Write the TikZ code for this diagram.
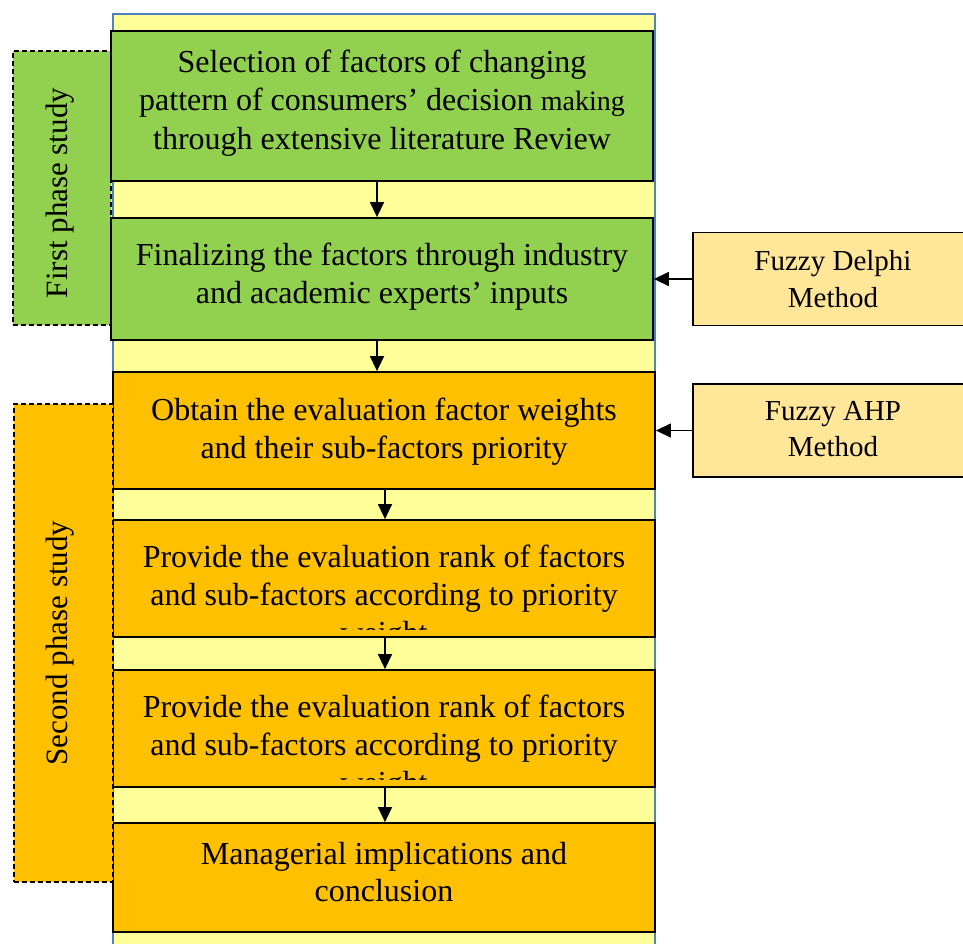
\documentclass[tikz,border=0pt]{standalone}
\usepackage{fontspec}
\setmainfont{Liberation Serif}
\usetikzlibrary{arrows.meta}
\definecolor{cgreen}{HTML}{92D050}
\definecolor{corange}{HTML}{FFC000}
\definecolor{cyellow}{HTML}{FFFF99}
\definecolor{cpeach}{HTML}{FFE699}
\definecolor{cblue}{HTML}{4F81BD}
\begin{document}
\begin{tikzpicture}[x=1pt,y=-1pt,
  stepbox/.style={draw=black, line width=1.8pt, minimum width=542pt, inner sep=0pt, rectangle},
  greenbox/.style={stepbox, fill=cgreen},
  orangebox/.style={stepbox, fill=corange},
  methodbox/.style={draw=black, line width=1.8pt, fill=cpeach, minimum width=280pt, minimum height=93pt, inner sep=0pt},
  phasebox/.style={draw=black, line width=1.4pt, dash pattern=on 5pt off 3pt, inner sep=0pt},
  lbl/.style={font=\fontsize{32}{38}\selectfont, anchor=base, inner sep=0pt},
  mlbl/.style={font=\fontsize{29}{34}\selectfont, anchor=base, inner sep=0pt},
  plbl/.style={font=\fontsize{31}{36}\selectfont, rotate=90, inner sep=0pt},
  arr/.style={line width=1.4pt, -{Triangle[length=15pt,width=14pt]}}]
\useasboundingbox (0,0) rectangle (963,943);
% column
\path[fill=cyellow] (113,14) rectangle (655,950);
\draw[cblue, line width=1.5pt] (113,950) -- (113,14) -- (655,14) -- (655,950);
% first phase box (behind)
\node[phasebox, fill=cgreen, minimum width=98pt, minimum height=274pt] (ph1) at (62,188) {};
\node[plbl] (ph1t) at (60,193) {First phase study};
% main boxes
\node[greenbox, minimum height=150pt] (b1) at (382,106) {};
\node[greenbox, minimum height=122pt] (b2) at (382,279) {};
\node[orangebox, minimum height=117pt] (b3) at (384,430.5) {};
\node[orangebox, minimum height=117pt] (b4) at (384,578.5) {};
\node[orangebox, minimum height=117pt] (b5) at (384,728.5) {};
\node[orangebox, minimum height=109pt] (b6) at (384,877.5) {};
% texts
\node[lbl] (t1a) at (382,72) {Selection of factors of changing};
\node[lbl] (t1b) at (382,110.5) {pattern of consumers’ decision {\fontsize{28}{28}\selectfont making}};
\node[lbl] (t1c) at (382,149) {through extensive literature Review};
\node[lbl] (t2a) at (382,265) {Finalizing the factors through industry};
\node[lbl] (t2b) at (382,303) {and academic experts’ inputs};
\node[lbl] (t3a) at (384,420) {Obtain the evaluation factor weights};
\node[lbl] (t3b) at (384,458) {and their sub-factors priority};
\node[lbl] (t4a) at (384,567) {Provide the evaluation rank of factors};
\node[lbl] (t4b) at (384,605) {and sub-factors according to priority};
\begin{scope}
\clip (113,520) rectangle (655,629);
\node[lbl] (t4c) at (384,643) {weight};
\end{scope}
\node[lbl] (t5a) at (384,717) {Provide the evaluation rank of factors};
\node[lbl] (t5b) at (384,755) {and sub-factors according to priority};
\begin{scope}
\clip (113,670) rectangle (655,779);
\node[lbl] (t5c) at (384,793) {weight};
\end{scope}
\node[lbl] (t6a) at (384,864) {Managerial implications and};
\node[lbl] (t6b) at (384,901) {conclusion};
% second phase box (in front)
\node[phasebox, fill=corange, minimum width=99pt, minimum height=478pt] (ph2) at (63.5,643) {};
\node[plbl] (ph2t) at (60,643) {Second phase study};
% method boxes
\node[methodbox] (delphi) at (833,279) {};
\node[mlbl] (dt1) at (833,270) {Fuzzy Delphi};
\node[mlbl] (dt2) at (833,307) {Method};
\node[methodbox] (ahp) at (833,430.5) {};
\node[mlbl] (at1) at (833,420) {Fuzzy AHP};
\node[mlbl] (at2) at (833,456) {Method};
% arrows
\draw[arr] ([xshift=-5pt]b1.south) -- ([xshift=-5pt]b1.south |- b2.north);
\draw[arr] ([xshift=-5pt]b2.south) -- ([xshift=-5pt]b2.south |- b3.north);
\draw[arr] ([xshift=1pt]b3.south) -- ([xshift=1pt]b3.south |- b4.north);
\draw[arr] ([xshift=1pt]b4.south) -- ([xshift=1pt]b4.south |- b5.north);
\draw[arr] ([xshift=1pt]b5.south) -- ([xshift=1pt]b5.south |- b6.north);
\draw[arr] (delphi.west) -- (delphi.west -| b2.east);
\draw[arr] (ahp.west) -- (ahp.west -| b3.east);
\end{tikzpicture}
\end{document}
